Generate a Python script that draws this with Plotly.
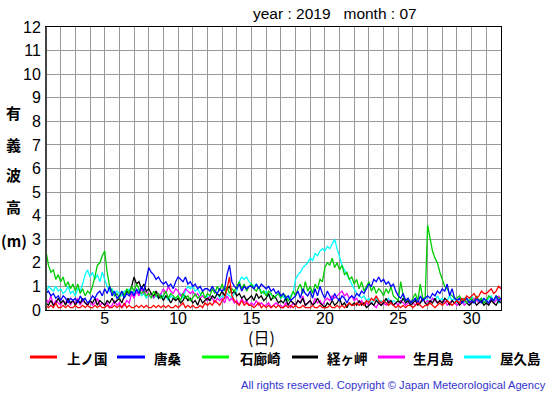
import plotly.graph_objects as go

# ---- data: significant wave height (m), 6 samples per day, July 2019 ----
kaminokuni = [
 0.2,0.1,0.2,0.1,0.3,0.1, 0.1,0.2,0.1,0.2,0.1,0.1, 0.2,0.1,0.1,0.2,0.1,0.2, 0.1,0.1,0.2,0.1,0.2,0.1,
 0.1,0.2,0.1,0.1,0.2,0.1, 0.2,0.1,0.3,0.1,0.2,0.1, 0.1,0.2,0.1,0.2,0.1,0.2, 0.1,0.1,0.2,0.1,0.2,0.1,
 0.2,0.1,0.2,0.1,0.1,0.2, 0.1,0.2,0.3,0.1,0.2,0.1, 0.2,0.1,0.1,0.2,0.1,0.3, 0.2,0.3,0.2,0.4,0.3,0.2,
 0.4,0.5,0.9,1.4,0.6,0.4, 0.3,0.2,0.4,0.2,0.3,0.2, 0.2,0.1,0.2,0.3,0.1,0.2, 0.1,0.2,0.1,0.2,0.1,0.2,
 0.1,0.1,0.2,0.1,0.2,0.1, 0.2,0.1,0.1,0.2,0.1,0.1, 0.1,0.2,0.1,0.1,0.2,0.1, 0.1,0.1,0.2,0.1,0.1,0.2,
 0.1,0.2,0.1,0.2,0.3,0.2, 0.2,0.3,0.2,0.3,0.2,0.4, 0.3,0.5,0.4,0.6,0.4,0.3, 0.4,0.3,0.2,0.3,0.2,0.1,
 0.2,0.1,0.2,0.1,0.2,0.2, 0.1,0.2,0.3,0.2,0.1,0.2, 0.2,0.3,0.2,0.1,0.2,0.3, 0.2,0.3,0.4,0.3,0.2,0.3,
 0.4,0.3,0.5,0.4,0.6,0.5, 0.6,0.7,0.5,0.6,0.8,0.7, 0.7,0.8,0.9,0.7,0.8,1.0, 0.9]

karakuwa = [
 0.7,0.8,0.6,0.7,0.5,0.6, 0.4,0.6,0.5,0.3,0.5,0.4, 0.5,0.3,0.6,0.4,0.5,0.3, 0.4,0.6,0.5,0.7,0.8,0.6,
 0.9,0.7,1.0,0.6,0.8,0.5, 0.6,0.8,0.5,0.7,0.6,0.8, 0.6,0.9,0.7,1.0,0.8,1.3, 1.8,1.6,1.5,1.3,1.4,1.2,
 1.1,1.2,1.0,1.1,0.9,1.2, 1.4,1.3,1.2,1.4,1.1,1.2, 1.0,1.1,0.9,1.0,0.8,0.9, 0.9,0.8,1.0,0.8,0.7,0.9,
 0.8,0.9,1.5,1.9,1.2,1.0, 0.9,1.1,0.8,1.0,0.9,1.0, 1.0,0.9,1.1,0.9,1.1,1.0, 0.9,1.0,0.8,0.9,0.7,0.8,
 0.6,0.7,0.5,0.6,0.4,0.5, 0.6,0.8,0.5,0.9,0.7,0.6, 0.8,0.5,0.9,0.6,1.0,0.7, 0.5,0.8,0.6,0.4,0.7,0.5,
 0.4,0.6,0.5,0.3,0.5,0.6, 0.5,0.7,0.6,0.8,0.7,0.9, 1.1,1.0,1.3,1.2,1.4,1.2, 1.3,1.1,1.2,1.0,1.1,0.8,
 0.6,0.5,0.7,0.4,0.5,0.3, 0.4,0.5,0.3,0.6,0.4,0.5, 0.6,0.5,0.7,0.6,0.8,0.7, 0.9,0.8,1.1,0.6,0.9,0.5,
 0.4,0.5,0.3,0.4,0.5,0.3, 0.4,0.3,0.5,0.4,0.3,0.5, 0.4,0.3,0.5,0.4,0.6,0.4, 0.5]

irozaki = [
 2.5,1.9,1.6,1.7,1.3,1.5, 1.2,1.4,1.0,1.2,0.9,1.1, 0.8,1.1,0.7,0.9,0.6,0.8, 0.7,1.0,1.4,1.9,2.0,2.3,
 2.5,1.6,1.0,0.8,0.6,0.7, 0.5,0.8,0.6,0.9,0.7,1.0, 0.8,1.1,0.9,0.7,0.8,0.6, 0.7,0.5,0.8,0.6,0.7,0.5,
 0.6,0.8,0.5,0.7,0.6,0.5, 0.6,0.4,0.7,0.5,0.6,0.4, 0.5,0.7,0.5,0.6,0.8,0.5, 0.7,0.6,0.9,0.7,1.0,0.8,
 1.1,0.8,1.0,0.7,0.9,0.8, 1.0,1.2,0.9,1.1,0.8,1.0, 1.1,0.9,0.8,1.0,0.7,0.8, 0.6,0.8,0.7,0.5,0.6,0.7,
 0.5,0.7,0.6,0.4,0.5,0.8, 0.6,0.9,1.1,0.7,1.2,0.8, 1.0,0.7,1.1,0.9,1.3,1.2, 1.8,2.0,1.9,2.2,1.8,2.0,
 1.7,1.9,1.5,1.6,1.3,1.4, 1.1,1.3,0.9,1.2,0.8,1.0, 1.2,0.8,1.0,0.7,0.9,0.8, 0.6,0.9,0.7,1.0,0.6,0.5,
 0.4,1.2,0.6,0.4,0.5,0.3, 0.5,0.7,0.4,1.1,0.5,0.5, 3.6,3.0,2.5,2.2,2.0,1.6, 1.3,1.0,0.9,0.7,0.6,0.5,
 0.5,0.6,0.4,0.5,0.3,0.4, 0.5,0.3,0.6,0.4,0.5,0.3, 0.4,0.6,0.5,0.4,0.6,0.5, 0.5]

kyogamisaki = [
 0.3,0.2,0.4,0.2,0.3,0.5, 0.3,0.4,0.2,0.5,0.3,0.4, 0.2,0.4,0.3,0.5,0.3,0.2, 0.4,0.3,0.5,0.2,0.4,0.3,
 0.2,0.4,0.3,0.5,0.3,0.4, 0.5,0.3,0.6,0.8,0.7,1.0, 1.4,1.1,1.2,0.9,1.1,0.8, 0.9,0.7,0.6,0.8,0.5,0.6,
 0.4,0.6,0.5,0.3,0.5,0.4, 0.5,0.3,0.4,0.6,0.4,0.5, 0.3,0.4,0.2,0.5,0.3,0.4, 0.5,0.4,0.6,0.5,0.7,0.6,
 0.8,0.6,0.9,1.0,0.7,0.8, 0.6,0.7,0.5,0.6,0.4,0.5, 0.6,0.4,0.7,0.5,0.6,0.4, 0.5,0.7,0.4,0.6,0.5,0.3,
 0.4,0.3,0.5,0.2,0.4,0.3, 0.2,0.4,0.3,0.5,0.2,0.3, 0.4,0.2,0.3,0.5,0.3,0.2, 0.1,0.3,0.2,0.4,0.2,0.3,
 0.5,0.2,0.3,0.1,0.3,0.2, 0.3,0.2,0.4,0.2,0.3,0.1, 0.2,0.3,0.2,0.4,0.3,0.2, 0.3,0.5,0.3,0.4,0.2,0.3,
 0.4,0.3,0.5,0.3,0.4,0.2, 0.3,0.4,0.2,0.3,0.5,0.3, 0.2,0.4,0.3,0.5,0.3,0.4, 0.3,0.5,0.4,0.2,0.4,0.3,
 0.4,0.2,0.3,0.5,0.3,0.2, 0.3,0.4,0.2,0.3,0.4,0.2, 0.3,0.2,0.4,0.3,0.2,0.4, 0.3]

ikitsukishima = [
 0.5,0.3,0.6,0.2,0.4,0.3, 0.2,0.4,0.3,0.5,0.2,0.4, 0.3,0.5,0.2,0.4,0.3,0.2, 0.4,0.2,0.3,0.5,0.2,0.3,
 0.2,0.3,0.1,0.2,0.4,0.2, 0.3,0.1,0.2,0.4,0.3,0.7, 0.5,0.8,0.6,0.9,0.7,0.8, 0.6,0.7,0.5,0.8,0.6,0.7,
 0.9,0.7,1.0,0.8,0.7,0.9, 0.8,0.6,0.7,0.9,0.8,0.7, 0.8,0.6,0.7,0.5,0.6,0.5, 0.4,0.6,0.5,0.3,0.5,0.4,
 0.5,0.3,0.6,0.4,0.5,0.3, 0.4,0.2,0.5,0.3,0.4,0.2, 0.3,0.2,0.4,0.2,0.3,0.2, 0.2,0.3,0.1,0.2,0.3,0.2,
 0.2,0.1,0.3,0.2,0.1,0.3, 0.2,0.4,0.3,0.6,0.2,0.3, 0.4,0.2,0.5,0.3,0.4,0.2, 0.4,0.5,0.4,0.6,0.5,0.6,
 0.7,0.8,0.6,0.7,0.5,0.6, 0.4,0.5,0.3,0.4,0.2,0.3, 0.2,0.3,0.2,0.1,0.3,0.2, 0.3,0.2,0.4,0.3,0.2,0.3,
 0.2,0.4,0.3,0.2,0.3,0.4, 0.3,0.2,0.4,0.3,0.5,0.3, 0.4,0.3,0.5,0.4,0.3,0.4, 0.3,0.4,0.2,0.3,0.4,0.3,
 0.2,0.3,0.4,0.2,0.3,0.4, 0.3,0.5,0.4,0.3,0.4,0.3, 0.4,0.3,0.5,0.3,0.4,0.6, 0.4]

yakushima = [
 0.7,1.0,0.9,0.8,1.0,0.8, 0.9,0.7,0.8,1.0,0.7,0.8, 0.6,0.9,0.8,1.1,1.5,1.7, 1.4,1.6,1.3,1.5,1.2,1.6,
 1.3,1.0,0.8,0.9,0.7,0.8, 0.7,0.6,0.8,0.7,0.9,0.6, 0.8,0.7,0.9,0.6,0.7,0.5, 0.6,0.7,0.5,0.6,0.5,0.7,
 0.5,0.6,0.4,0.6,0.5,0.5, 0.6,0.7,0.5,0.8,1.0,0.9, 1.0,0.8,0.9,0.7,0.6,0.5, 0.6,0.4,0.6,0.5,0.7,0.5,
 0.6,0.5,0.7,0.6,0.5,0.7, 0.8,1.2,1.4,1.3,1.4,1.2, 1.1,1.0,1.1,0.9,0.8,0.7, 0.8,0.6,0.7,0.5,0.6,0.7,
 0.5,0.6,0.4,0.5,0.6,0.7, 1.3,1.5,1.6,1.8,1.9,2.0, 2.2,2.1,2.4,2.3,2.5,2.6, 2.5,2.7,2.6,2.8,3.0,2.6,
 2.2,1.9,1.7,1.5,1.3,1.1, 0.9,0.7,0.6,0.5,0.6,0.4, 0.5,0.3,0.4,0.5,0.3,0.4, 0.3,0.4,0.5,0.3,0.4,0.3,
 0.4,0.3,0.5,0.4,0.3,0.4, 0.3,0.5,0.4,0.3,0.4,0.5, 0.4,0.3,0.5,0.4,0.6,0.4, 0.5,0.3,0.4,0.6,0.4,0.5,
 0.3,0.5,0.4,0.3,0.5,0.4, 0.6,0.4,0.5,0.3,0.5,0.4, 0.3,0.5,0.6,0.4,0.5,0.3, 0.4]

series_names = ["上ノ国", "唐桑", "石廊崎", "経ヶ岬", "生月島", "屋久島"]
series_values = [kaminokuni, karakuwa, irozaki, kyogamisaki, ikitsukishima, yakushima]
series_colors = ["#ff0000", "#0000ff", "#00cc00", "#000000", "#ff00ff", "#00ffff"]
legend_colors = ["#ff0000", "#0000ff", "#00ff00", "#000000", "#ff00ff", "#00ffff"]
x_tick_vals = [5, 10, 15, 20, 25, 30]
y_tick_vals = list(range(0, 13))
samples_per_day = 6

# ---- layout geometry (pixels) ----
W, H = 555, 395
L, R, T, B = 46, 501, 27, 310

def px(xp):
    return (xp - L) / (R - L)

def py(yp):
    return (B - yp) / (B - T)

fig = go.Figure()
for name, vals, col in reversed(list(zip(series_names, series_values, series_colors))):
    xs = [1 + i / samples_per_day for i in range(len(vals))]
    fig.add_trace(go.Scatter(x=xs, y=vals, mode="lines", name=name,
                             line=dict(color=col, width=1.3), showlegend=False,
                             hoverinfo="skip"))

latin = "Liberation Sans, Arial, sans-serif"
cjk = "Noto Sans CJK JP, sans-serif"

fig.update_layout(
    width=W, height=H,
    margin=dict(l=L, r=W - R, t=T, b=H - B, autoexpand=False),
    paper_bgcolor="white", plot_bgcolor="white",
    xaxis=dict(range=[1, 32], tickvals=x_tick_vals, showgrid=True,
               gridcolor="#999999", gridwidth=1,
               minor=dict(dtick=1, tick0=1, showgrid=True, gridcolor="#999999", gridwidth=1),
               showline=True, linecolor="#000000", linewidth=1, mirror=True,
               ticks="", zeroline=False, automargin=False, ticklabelstandoff=-6,
               tickfont=dict(family=latin, size=16, color="#000")),
    yaxis=dict(range=[0, 12], tickvals=y_tick_vals, showgrid=True,
               gridcolor="#999999", gridwidth=1,
               showline=True, linecolor="#000000", linewidth=1, mirror=True,
               ticks="", zeroline=False, ticklabelstandoff=1, automargin=False,
               tickfont=dict(family=latin, size=16, color="#000")),
)

fig.add_shape(type="line", xref="paper", yref="paper", x0=0, x1=0, y0=0, y1=1,
              line=dict(color="#444444", width=2))

def text(t, x, y, size, family, color="#000", xanchor="center"):
    return dict(text=t, x=px(x), y=py(y), xref="paper", yref="paper",
                xanchor=xanchor, yanchor="middle", showarrow=False,
                font=dict(family=family, size=size, color=color))

nb = "\u00a0"
ann = [text("year : 2019" + nb * 3 + "month : 07", 335, 14, 15.5, latin)]
for ch, yy in zip(["有", "義", "波", "高"], [112, 144, 175, 206]):
    ann.append(text("<b>" + ch + "</b>", 13, yy, 15, cjk))
ann.append(text("<b>(m)</b>", 14, 240, 15, cjk))
ann.append(text("(日)", 261, 337, 16, cjk))

leg_line = [(30, 57), (117, 145), (202, 229), (292, 318), (378, 405), (464, 491)]
leg_text = [65, 152, 238, 325, 411, 498]
for (a, b), tx, name, col in zip(leg_line, leg_text, series_names, legend_colors):
    fig.add_shape(type="line", xref="paper", yref="paper", x0=px(a), x1=px(b),
                  y0=py(357), y1=py(357), line=dict(color=col, width=3))
    ann.append(text("<b>" + name + "</b>", tx, 358, 13.5, cjk, xanchor="left"))

ann.append(text("All rights reserved. Copyright © Japan Meteorological Agency",
                548, 385, 11.2, latin, color="#3333cc", xanchor="right"))
fig.update_layout(annotations=ann)

fig.write_html("out.html", config={"displayModeBar": False},
               post_script="document.body.style.margin='0px';")
